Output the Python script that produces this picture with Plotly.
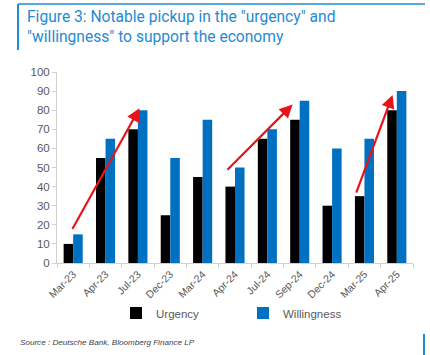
import plotly.graph_objects as go

categories = ["Mar-23", "Apr-23", "Jul-23", "Dec-23", "Mar-24", "Apr-24",
              "Jul-24", "Sep-24", "Dec-24", "Mar-25", "Apr-25"]
urgency = [10, 55, 70, 25, 45, 40, 65, 75, 30, 35, 80]
willingness = [15, 65, 80, 55, 75, 50, 70, 85, 60, 65, 90]
y_ticks = [0, 10, 20, 30, 40, 50, 60, 70, 80, 90, 100]

# arrows: (start category, offset, start value, end category, offset, end value)
arrows = [
    ("Mar-23", -0.05, 17, "Jul-23", 0.05, 81),
    ("Apr-24", -0.28, 48, "Sep-24", -0.22, 83),
    ("Mar-25", -0.27, 36, "Apr-25", -0.13, 88),
]

W, H = 430, 355
L, R, T, B = 57, 17, 72, 92
PW, PH = W - L - R, H - T - B


def px(x):
    return (x - L) / PW


def py(y):
    return (H - B - y) / PH


BLUE = "#0070c0"
TITLE_BLUE = "#1f8bd0"
GRAY = "#595959"

fig = go.Figure()
fig.add_trace(go.Bar(x=categories, y=urgency, name="Urgency",
                     marker=dict(color="#000000", line=dict(width=0))))
fig.add_trace(go.Bar(x=categories, y=willingness, name="Willingness",
                     marker=dict(color=BLUE, line=dict(width=0))))

annotations = []
for c0, o0, v0, c1, o1, v1 in arrows:
    annotations.append(dict(
        x=categories.index(c1) + o1, y=v1, ax=categories.index(c0) + o0, ay=v0,
        xref="x", yref="y", axref="x", ayref="y", text="", showarrow=True,
        arrowhead=2, arrowsize=1.2, arrowwidth=2.2, arrowcolor="#e8141b",
        standoff=0, startstandoff=0))

annotations.append(dict(
    x=px(25), y=py(27), xref="paper", yref="paper", xanchor="left",
    yanchor="middle", align="left", showarrow=False,
    text='Figure 3: Notable pickup in the "urgency" and<br>"willingness" to support the economy',
    font=dict(family="Roboto, Liberation Sans, sans-serif", size=15.6, color=TITLE_BLUE)))
annotations.append(dict(
    x=px(18), y=py(342), xref="paper", yref="paper", xanchor="left",
    yanchor="middle", showarrow=False,
    text="<i>Source : Deutsche Bank, Bloomberg Finance LP</i>",
    font=dict(family="Liberation Sans, Arial, sans-serif", size=8.1, color="#404040")))

shapes = [
    dict(type="line", xref="paper", yref="paper", x0=px(18), x1=px(425),
         y0=py(4), y1=py(4), line=dict(color=TITLE_BLUE, width=1.5)),
    dict(type="line", xref="paper", yref="paper", x0=px(18), x1=px(18),
         y0=py(4), y1=py(50), line=dict(color=TITLE_BLUE, width=2)),
    dict(type="line", xref="paper", yref="paper", x0=px(424), x1=px(424),
         y0=py(334), y1=py(355), line=dict(color=TITLE_BLUE, width=2)),
]

fig.update_layout(
    width=W, height=H, margin=dict(l=L, r=R, t=T, b=B, autoexpand=False),
    paper_bgcolor="white", plot_bgcolor="white",
    barmode="group", bargap=0.41, bargroupgap=0,
    font=dict(family="Liberation Sans, Arial, sans-serif", size=11, color=GRAY),
    showlegend=True,
    legend=dict(orientation="h", x=px(116), y=py(313), xanchor="left",
                yanchor="middle", entrywidth=82, entrywidthmode="pixels",
                itemwidth=30, font=dict(size=11.5, color=GRAY),
                traceorder="normal"),
    annotations=annotations, shapes=shapes,
    xaxis=dict(type="category", tickangle=-45, showline=True, linecolor="#d0d0d0",
               linewidth=1, ticks="outside", tickson="boundaries", ticklen=4,
               tickcolor="#d0d0d0", showgrid=False, automargin=False,
               tickfont=dict(size=10.5, color=GRAY)),
    yaxis=dict(range=[0, 100], tickvals=y_ticks, showline=True, linecolor="#d0d0d0",
               linewidth=1, ticks="outside", ticklen=4, tickcolor="#d0d0d0",
               showgrid=False, zeroline=False, automargin=False,
               tickfont=dict(size=11.5, color=GRAY)),
)

fig.write_html("out.html", config={"displayModeBar": False},
               post_script="document.body.style.margin='0';document.body.style.overflow='hidden';")
